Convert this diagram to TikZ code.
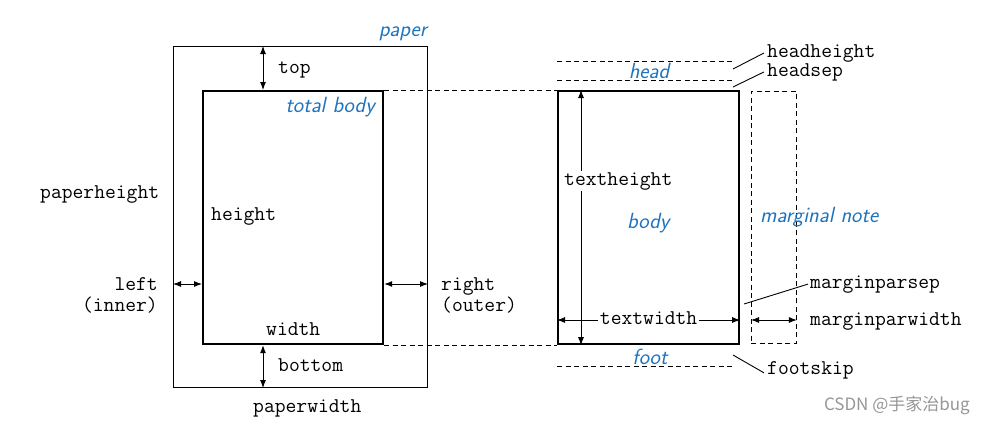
\documentclass[tikz,border=0pt]{standalone}
\usepackage{fontspec}
\newfontfamily\cjk{Noto Sans CJK SC}
\usetikzlibrary{arrows.meta}
\definecolor{noteblue}{RGB}{30,115,190}
\definecolor{markgray}{RGB}{150,150,150}
\tikzset{
  lbl/.style={font=\fontsize{21}{24}\selectfont\ttfamily, inner sep=0pt},
  note/.style={font=\fontsize{22}{26}\selectfont\sffamily\itshape, text=noteblue, inner sep=0pt},
  dim/.style={line width=0.9pt, {Latex[length=8pt,width=6pt]}-{Latex[length=8pt,width=6pt]}},
  guide/.style={line width=0.9pt, dash pattern=on 5pt off 3.5pt},
  leader/.style={line width=0.9pt},
  frame/.style={draw, inner sep=0pt, anchor=north west},
}
\begin{document}
\begin{tikzpicture}[x=1pt,y=-1pt]
\useasboundingbox (0,0) rectangle (985,424);

% Paper and total body
\node[frame, line width=1pt, minimum width=254pt, minimum height=341pt] (paper) at (173,46) {};
\node[frame, line width=2.2pt, minimum width=180pt, minimum height=253pt] (tbody) at (202,90) {};
\node[note, anchor=base east] (papertxt) at (427,36) {paper};
\node[note, anchor=base east] (tbodytxt) at (375,112) {total body};

% Margins around the body
\coordinate (mx) at (263,0);
\coordinate (my) at (0,284);
\draw[dim] (paper.north -| mx) -- (tbody.north -| mx);
\draw[dim] (tbody.south -| mx) -- (paper.south -| mx);
\draw[dim] (paper.west |- my) -- (tbody.west |- my);
\draw[dim] (tbody.east |- my) -- (paper.east |- my);

\node[lbl, anchor=base west] (toptxt) at (278,73) {top};
\node[lbl, anchor=base west] (bottomtxt) at (278,371) {bottom};
\node[lbl, anchor=base east] (lefttxt) at (158,290) {left};
\node[lbl, anchor=base east] (innertxt) at (158,311) {(inner)};
\node[lbl, anchor=base west] (righttxt) at (441,290) {right};
\node[lbl, anchor=base west] (outertxt) at (441,311) {(outer)};
\node[lbl, anchor=base west] (paperhtxt) at (40,198) {paperheight};
\node[lbl, anchor=base west] (paperwtxt) at (253,412) {paperwidth};
\node[lbl, anchor=base west] (heighttxt) at (211,220) {height};
\node[lbl, anchor=base west] (widthtxt) at (266,335) {width};

% Text body, head and foot
\node[frame, line width=2.2pt, minimum width=181pt, minimum height=253pt] (tb) at (557,90) {};
\draw[guide] (tbody.north east) -- (tb.north west);
\draw[guide] (tbody.south east) -- (tb.south west);

\coordinate (headtop) at (557,61);
\coordinate (headbot) at (557,80);
\coordinate (footbot) at (557,366);
\draw[guide] (headtop) -- ++(178,0);
\draw[guide] (headbot) -- ++(178,0);
\draw[guide] (footbot) -- ++(178,0);
\node[note, anchor=base] (headtxt) at (649,78) {head};
\node[note, anchor=base] (foottxt) at (650,364) {foot};
\node[note, anchor=base west] (bodytxt) at (627,228) {body};

\coordinate (thx) at (581,0);
\coordinate (twy) at (0,320);
\draw[dim] (tb.north -| thx) -- (tb.south -| thx);
\node[lbl, anchor=base west, fill=white, inner sep=1pt] (theighttxt) at (563,185) {textheight};
\draw[dim] (tb.west |- twy) -- node[lbl, fill=white, inner sep=2pt, anchor=base, yshift=-4pt] (twidthtxt) {textwidth} (tb.east |- twy);

% Marginal note
\node[frame, guide, minimum width=45pt, minimum height=252pt] (mnote) at (751,91) {};
\node[note, anchor=base west] (mnotetxt) at (760,222) {marginal note};
\draw[dim] (mnote.west |- twy) -- (mnote.east |- twy);

% Leaders
\node[lbl, anchor=base west] (hhtxt) at (767,57) {headheight};
\node[lbl, anchor=base west] (hstxt) at (767,76) {headsep};
\node[lbl, anchor=base west] (mpstxt) at (810,288) {marginparsep};
\node[lbl, anchor=base west] (mpwtxt) at (810,325) {marginparwidth};
\node[lbl, anchor=base west] (fstxt) at (767,374) {footskip};
\coordinate (hhend) at (733,69);
\coordinate (hsend) at (733,87);
\coordinate (mpsend) at (744,304);
\coordinate (fsend) at (733,355);
\draw[leader] (hhend) -- ([xshift=-3pt]hhtxt.west);
\draw[leader] (hsend) -- ([xshift=-3pt]hstxt.west);
\draw[leader] (mpsend) -- ([xshift=-2pt]mpstxt.west);
\draw[leader] (fsend) -- ([xshift=-3pt,yshift=-3pt]fstxt.west);

% Watermark
\node[font=\cjk\fontsize{17}{20}\selectfont, text=markgray, anchor=east, inner sep=0pt] (mark) at (970,405) {CSDN @手家治bug};
\end{tikzpicture}
\end{document}
